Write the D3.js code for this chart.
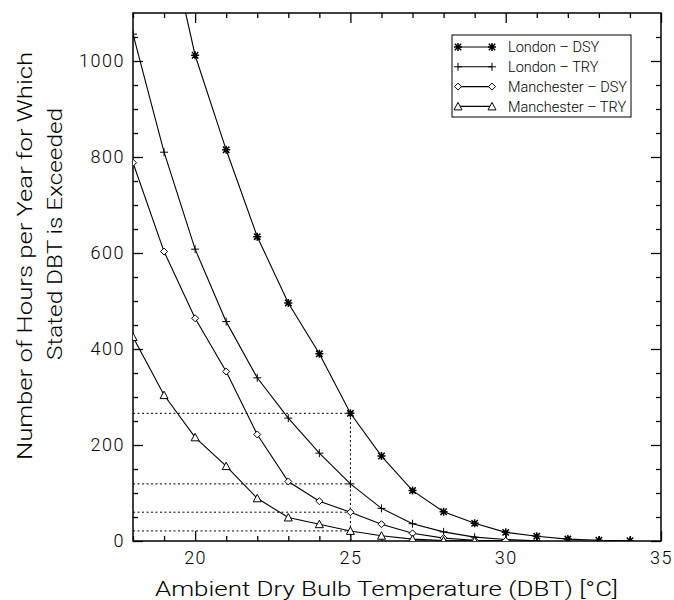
<!DOCTYPE html>
<html>
<head>
<meta charset="utf-8">
<script src="https://cdn.jsdelivr.net/npm/d3@7"></script>
<style>
	body { margin: 0; background: #fff; }
	text { font-family: Roboto, 'DejaVu Sans', sans-serif; font-weight: 300; fill: #000; }
</style>
</head>
<body>
<div id="chart"></div>
<script>
'use strict';

// Hours per year above a given dry bulb temperature
var londonDsyT = [19, 20, 21, 22, 23, 24, 25, 26, 27, 28, 29, 30, 31, 32, 33, 34];
var londonDsy = [1300, 1012, 815, 634, 496, 390, 266, 177, 105, 61, 37, 18, 10, 4, 1.5, 0.5];
var londonTryT = [18, 19, 20, 21, 22, 23, 24, 25, 26, 27, 28, 29, 30, 31];
var londonTry = [1056, 810, 608, 457, 340, 256, 183, 119, 68, 36, 19, 8, 3, 0.5];
var manDsyT = [18, 19, 20, 21, 22, 23, 24, 25, 26, 27, 28, 29, 30];
var manDsy = [788, 603, 464, 353, 222, 124, 83, 60, 35, 16, 6, 1.5, 0.5];
var manTryT = [18, 19, 20, 21, 22, 23, 24, 25, 26, 27, 28, 29];
var manTry = [425, 304, 216, 156, 89, 49, 35, 21, 11, 4, 1, 0];

var seriesNames = ['London \u2013 DSY', 'London \u2013 TRY', 'Manchester \u2013 DSY', 'Manchester \u2013 TRY'];
var seriesSymbols = ['asterisk', 'plus', 'diamond', 'triangle'];

var xMajor = [20, 25, 30, 35];
var xMinor = [18, 19, 21, 22, 23, 24, 26, 27, 28, 29, 31, 32, 33, 34];
var yMajor = [0, 200, 400, 600, 800, 1000];
var yMinor = [50, 100, 150, 250, 300, 350, 450, 500, 550, 650, 700, 750, 850, 900, 950, 1050];
var markTemp = 25;

var series = [
	{ t: londonDsyT, v: londonDsy },
	{ t: londonTryT, v: londonTry },
	{ t: manDsyT, v: manDsy },
	{ t: manTryT, v: manTry }
].map(function(s, i) {
	return {
		name: seriesNames[i],
		symbol: seriesSymbols[i],
		points: s.t.map(function(t, j) { return { t: t, v: s.v[j] }; })
	};
});

// Dimensions
var width = 674, height = 600;
var margin = { top: 13, left: 133, right: 13, bottom: 59 };
var w = width - margin.left - margin.right;
var h = height - margin.top - margin.bottom;

var svg = d3.select('#chart')
	.append('svg')
	.attr('width', width)
	.attr('height', height);

var g = svg.append('g').attr('transform', 'translate(' + margin.left + ',' + margin.top + ')');

// Scales
var x = d3.scaleLinear().domain([18, 35]).range([0, w]);
var y = d3.scaleLinear().domain([0, 1100]).range([h, 0]);

// Symbol paths, drawn around 0,0
function symbolPath(type) {
	var s = 4;
	if (type === 'asterisk') {
		return 'M' + -s + ',0H' + s + 'M0,' + -s + 'V' + s +
			'M' + -s * 0.8 + ',' + -s * 0.8 + 'L' + s * 0.8 + ',' + s * 0.8 +
			'M' + -s * 0.8 + ',' + s * 0.8 + 'L' + s * 0.8 + ',' + -s * 0.8;
	}
	if (type === 'plus') {
		return 'M' + -s + ',0H' + s + 'M0,' + -s + 'V' + s;
	}
	if (type === 'diamond') {
		return 'M0,-3.5L3.5,0L0,3.5L-3.5,0Z';
	}
	return 'M0,-4L4,3.5L-4,3.5Z';
}

// Axes, ticks pointing inward on all four sides
function addAxis(axis, transform, size, values, labels) {
	var a = g.append('g')
		.attr('transform', transform)
		.call(axis.tickValues(values).tickSizeInner(size).tickSizeOuter(0)
			.tickPadding(labels ? 10 : 0)
			.tickFormat(labels ? d3.format('d') : ''));
	a.select('.domain').remove();
	a.selectAll('line').attr('stroke', '#000').attr('stroke-width', 1.3);
	a.selectAll('text')
		.style('font-size', '18px')
		.style('letter-spacing', '1.5px');
	return a;
}

addAxis(d3.axisBottom(x), 'translate(0,' + h + ')', -10, xMajor, true);
addAxis(d3.axisBottom(x), 'translate(0,' + h + ')', -5, xMinor, false);
addAxis(d3.axisTop(x), null, -10, xMajor, false);
addAxis(d3.axisTop(x), null, -5, xMinor, false);
var yAx = addAxis(d3.axisLeft(y), null, -10, yMajor, true);
yAx.selectAll('text').attr('x', -8);
addAxis(d3.axisLeft(y), null, -5, yMinor, false);
addAxis(d3.axisRight(y), 'translate(' + w + ',0)', -10, yMajor, false);
addAxis(d3.axisRight(y), 'translate(' + w + ',0)', -5, yMinor, false);

g.append('rect')
	.attr('width', w)
	.attr('height', h)
	.attr('fill', 'none')
	.attr('stroke', '#000')
	.attr('stroke-width', 1.5);

// Clip
svg.append('clipPath').attr('id', 'clip')
	.append('rect').attr('width', w).attr('height', h);

var plot = g.append('g').attr('clip-path', 'url(#clip)');

// Dotted guides at 25 degC
var atMark = series.map(function(s) {
	return s.points.filter(function(p) { return p.t === markTemp; })[0].v;
});

plot.selectAll('.guide')
	.data(atMark)
	.enter()
	.append('line')
	.attr('class', 'guide')
	.attr('x1', x(18))
	.attr('x2', x(markTemp))
	.attr('y1', function(d) { return y(d); })
	.attr('y2', function(d) { return y(d); })
	.attr('stroke', '#000')
	.attr('stroke-width', 1)
	.attr('stroke-dasharray', '2,2.5');

plot.append('line')
	.attr('x1', x(markTemp))
	.attr('x2', x(markTemp))
	.attr('y1', y(0))
	.attr('y2', y(d3.max(atMark)))
	.attr('stroke', '#000')
	.attr('stroke-width', 1)
	.attr('stroke-dasharray', '2,2.5');

// Lines & symbols
var line = d3.line()
	.x(function(d) { return x(d.t); })
	.y(function(d) { return y(d.v); });

var sg = plot.selectAll('.series')
	.data(series)
	.enter()
	.append('g')
	.attr('class', 'series');

sg.append('path')
	.attr('d', function(d) { return line(d.points); })
	.attr('fill', 'none')
	.attr('stroke', '#000')
	.attr('stroke-width', 1.1);

sg.each(function(s) {
	d3.select(this).selectAll('.sym')
		.data(s.points)
		.enter()
		.append('path')
		.attr('class', 'sym')
		.attr('transform', function(d) { return 'translate(' + x(d.t) + ',' + y(d.v) + ')'; })
		.attr('d', symbolPath(s.symbol))
		.attr('fill', s.symbol === 'diamond' || s.symbol === 'triangle' ? '#fff' : 'none')
		.attr('stroke', '#000')
		.attr('stroke-width', s.symbol === 'asterisk' ? 1.5 : 1);
});

// Legend
var legend = svg.append('g').attr('transform', 'translate(452,35)');

legend.append('rect')
	.attr('width', 179)
	.attr('height', 82)
	.attr('fill', '#fff')
	.attr('stroke', '#000')
	.attr('stroke-width', 1);

var items = legend.selectAll('.item')
	.data(series)
	.enter()
	.append('g')
	.attr('class', 'item')
	.attr('transform', function(d, i) { return 'translate(0,' + (12 + i * 19.8) + ')'; });

items.append('line')
	.attr('x1', 6)
	.attr('x2', 40)
	.attr('stroke', '#000')
	.attr('stroke-width', 1.1);

items.each(function(s) {
	d3.select(this).selectAll('.sym')
		.data([6, 40])
		.enter()
		.append('path')
		.attr('transform', function(d) { return 'translate(' + d + ',0)'; })
		.attr('d', symbolPath(s.symbol))
		.attr('fill', s.symbol === 'diamond' || s.symbol === 'triangle' ? '#fff' : 'none')
		.attr('stroke', '#000')
		.attr('stroke-width', s.symbol === 'asterisk' ? 1.5 : 1);
});

items.append('text')
	.attr('x', 56)
	.attr('dy', '0.36em')
	.style('font-size', '14.5px')
	.text(function(d) { return d.name; });

// Axis titles
svg.append('text')
	.attr('x', 386.5)
	.attr('y', 596)
	.attr('text-anchor', 'middle')
	.attr('textLength', 463)
	.attr('lengthAdjust', 'spacingAndGlyphs')
	.style('font-size', '21px')
	.text('Ambient Dry Bulb Temperature (DBT) [\u00B0C]');

svg.append('text')
	.attr('transform', 'translate(32,256) rotate(-90)')
	.attr('text-anchor', 'middle')
	.attr('textLength', 408)
	.attr('lengthAdjust', 'spacingAndGlyphs')
	.style('font-size', '21px')
	.text('Number of Hours per Year for Which');

svg.append('text')
	.attr('transform', 'translate(62,234) rotate(-90)')
	.attr('text-anchor', 'middle')
	.attr('textLength', 252)
	.attr('lengthAdjust', 'spacingAndGlyphs')
	.style('font-size', '21px')
	.text('Stated DBT is Exceeded');
</script>
</body>
</html>
